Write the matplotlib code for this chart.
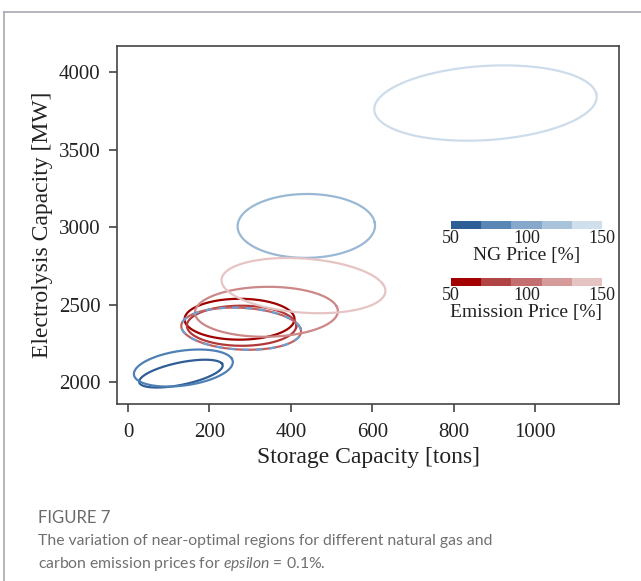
import numpy as np
import matplotlib
matplotlib.use("Agg")
import matplotlib.pyplot as plt
from matplotlib.colors import ListedColormap, BoundaryNorm
from matplotlib.cm import ScalarMappable
from matplotlib.lines import Line2D

# price levels [%]
levels = [50, 75, 100, 125, 150]

# near-optimal regions, approximated as ellipses:
# centre x [tons], centre y [MW], half width, half height, shear terms
ng_cx = [130, 136, 278, 438, 878]
ng_cy = [2054, 2090, 2344, 3007, 3800]
ng_a = [101, 118, 145, 168, 272]
ng_b = [63, 101, 136, 205, 235]
ng_c = [64, 64, 6, 22, 62]
ng_d = [-18, -29, -25, -16, -25]

em_cx = [274, 279, 278, 340, 431]
em_cy = [2405, 2363, 2344, 2453, 2622]
em_a = [134, 134, 145, 173, 195]
em_b = [131, 129, 136, 158, 178]
em_c = [-16, -10, 6, 32, 10]
em_d = [17, 10, -25, -30, -50]

ng_colors = ["#2f5d96", "#5a86b5", "#86a8cb", "#a9c3da", "#cfdfec"]
em_colors = ["#a30000", "#b04444", "#c46f6f", "#d59b9b", "#e6c3c3"]
ng_line = ["#2f5d96", "#4f80b5", "#6f9fcf", "#9ab8d4", "#cddcea"]
em_line = ["#a00000", "#b03838", "#c46060", "#cc8888", "#e6c4c4"]

plt.rcParams['font.family'] = ['Liberation Serif', 'DejaVu Serif']
plt.rcParams['mathtext.fontset'] = 'custom'
plt.rcParams['mathtext.it'] = 'Lato:italic'

fig = plt.figure(figsize=(6.41, 5.81), dpi=100)
ax = fig.add_axes([117/641, 1-404/581, 502/641, 358/581])

t = np.linspace(0, 2*np.pi, 300)


def ring(cx, cy, a, b, c, d):
    x = cx + a*np.cos(t) + d*np.sin(t)
    y = cy + b*np.sin(t) + c*np.cos(t)
    return x, y


# NG price variations
for i in range(len(levels)):
    if levels[i] == 100:
        continue
    x, y = ring(ng_cx[i], ng_cy[i], ng_a[i], ng_b[i], ng_c[i], ng_d[i])
    ax.plot(x, y, color=ng_line[i], lw=1.6)

# emission price variations
for i in range(len(levels)):
    x, y = ring(em_cx[i], em_cy[i], em_a[i], em_b[i], em_c[i], em_d[i])
    ax.plot(x, y, color=em_line[i], lw=1.6)

# base case (100 %) for both, blue dashes on top of red
j = levels.index(100)
x, y = ring(ng_cx[j], ng_cy[j], ng_a[j], ng_b[j], ng_c[j], ng_d[j])
ax.plot(x, y, color=ng_line[j], lw=1.6, ls=(0, (3, 3)))

ax.set_xlim(-27, 1206)
ax.set_ylim(1858, 4168)
ax.set_xticks([0, 200, 400, 600, 800, 1000])
ax.set_yticks([2000, 2500, 3000, 3500, 4000])
ax.tick_params(direction='out', length=6, width=1.1, colors='#333333',
               labelcolor='#222222', labelsize=15)
ax.tick_params(axis='x', pad=8)
ax.tick_params(axis='y', pad=6)
for s in ax.spines.values():
    s.set_color('#444444')
    s.set_linewidth(1.2)
ax.set_xlabel('Storage Capacity [tons]', fontsize=17, color='#222222', labelpad=3)
ax.set_ylabel('Electrolysis Capacity [MW]', fontsize=17, color='#222222', labelpad=4)

# colour legends
bounds = [50, 70, 90, 110, 130, 150]
for cols, yb, lab in [(ng_colors, 1-229/581, 'NG Price [%]'),
                      (em_colors, 1-286/581, 'Emission Price [%]')]:
    cax = fig.add_axes([451/641, yb, 151/641, 8/581])
    cmap = ListedColormap(cols)
    norm = BoundaryNorm(bounds, cmap.N)
    cb = fig.colorbar(ScalarMappable(norm=norm, cmap=cmap), cax=cax,
                      orientation='horizontal', ticks=[50, 100, 150])
    cb.outline.set_visible(False)
    cax.minorticks_off()
    cax.tick_params(which='both', length=0, pad=1, labelsize=13, labelcolor='#222222')
    cb.set_label(lab, fontsize=14, color='#222222', labelpad=0)

# page frame and caption
fig.add_artist(Line2D([4/641, 1], [1-12/581, 1-12/581], color='#a8a8b0', lw=1.2))
fig.add_artist(Line2D([4/641, 4/641], [0, 1-12/581], color='#a8a8b0', lw=1.2))
fig.text(38/641, 1-518/581, 'FIGURE 7', fontsize=12, color='#6b6b6b',
         family=['Lato', 'DejaVu Sans'], va='center')
fig.text(38/641, 1-541/581,
         'The variation of near-optimal regions for different natural gas and',
         fontsize=11.3, color='#707070', family=['Lato', 'DejaVu Sans'], va='center')
fig.text(38/641, 1-564/581,
         'carbon emission prices for $\\it{epsilon}$ = 0.1%.',
         fontsize=11.3, color='#707070', family=['Lato', 'DejaVu Sans'], va='center')

fig.savefig('out.png', dpi=100)
